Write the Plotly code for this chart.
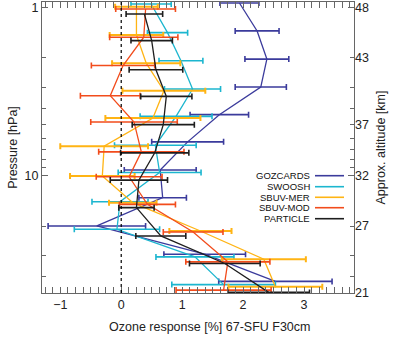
import plotly.graph_objects as go

# ---------------- data ----------------
series_names = ["GOZCARDS", "SWOOSH", "SBUV-MER", "SBUV-MOD", "PARTICLE"]
series_colors = ["#3b3b9c", "#1cb6cf", "#ffb414", "#f24c1c", "#1e1e1e"]

gozcards_p = [0.943, 1.382, 2.033, 2.980, 4.350, 6.313, 9.278, 13.56, 19.97, 29.39, 42.67]
gozcards_x = [1.94, 2.23, 2.39, 2.29, 1.61, 1.09, 0.64, 0.68, -0.40, 1.37, 2.53]
gozcards_e = [0.32, 0.36, 0.36, 0.42, 0.48, 0.59, 0.59, 0.39, 0.80, 0.67, 0.93]

swoosh_p = [0.956, 1.415, 2.081, 3.062, 4.452, 6.613, 9.599, 14.32, 20.90, 30.50, 44.58]
swoosh_x = [0.49, 0.76, 0.98, 1.17, 0.90, 0.56, 0.63, -0.02, -0.07, 1.21, 1.68]
swoosh_e = [0.33, 0.33, 0.36, 0.46, 0.59, 0.67, 0.68, 0.46, 0.70, 0.64, 0.85]

sbuvmer_p = [0.992, 1.459, 2.148, 3.134, 4.550, 6.705, 10.07, 14.52, 21.39, 31.47, 45.94]
sbuvmer_x = [0.25, 0.25, 0.41, 0.70, 0.52, -0.28, -0.31, 0.19, 1.30, 2.34, 2.53]
sbuvmer_e = [0.35, 0.44, 0.56, 0.68, 0.78, 0.72, 0.53, 0.39, 0.51, 0.69, 0.77]

sbuvmod_p = [1.023, 1.506, 2.219, 3.356, 4.806, 7.237, 10.18, 14.86, 21.69, 32.65, 48.06]
sbuvmod_x = [0.40, 0.37, 0.03, -0.18, 0.21, 0.33, 0.13, 0.43, 1.18, 1.75, 1.68]
sbuvmod_e = [0.49, 0.56, 0.52, 0.49, 0.71, 0.70, 0.54, 0.46, 0.49, 0.69, 0.78]

particle_p = [1.096, 1.578, 2.353, 3.388, 4.986, 7.336, 10.66, 15.54, 22.90, 33.38, 49.58]
particle_x = [0.38, 0.50, 0.57, 0.74, 0.69, 0.55, 0.29, 0.25, 0.65, 1.70, 2.42]
particle_e = [0.30, 0.34, 0.44, 0.42, 0.51, 0.56, 0.47, 0.29, 0.41, 0.58, 0.67]

left_tick_vals = [1, 10]
left_tick_text = ["1", "10"]
minor_p_ticks = [2, 3, 4, 5, 6, 7, 8, 9, 20, 30, 40, 50]
alt_tick_p = [1, 2, 5, 10, 20, 50]
alt_tick_text = ["48", "43", "37", "32", "27", "21"]

all_p = [gozcards_p, swoosh_p, sbuvmer_p, sbuvmod_p, particle_p]
all_x = [gozcards_x, swoosh_x, sbuvmer_x, sbuvmod_x, particle_x]
all_e = [gozcards_e, swoosh_e, sbuvmer_e, sbuvmod_e, particle_e]

FONT = "Liberation Sans, Arial, sans-serif"

fig = go.Figure()
for name, col, p, x, e in zip(series_names, series_colors, all_p, all_x, all_e):
    fig.add_trace(go.Scatter(
        x=x, y=p, mode="lines", name=name,
        line=dict(color=col, width=1.3),
        error_x=dict(type="data", array=e, visible=True, color=col,
                     thickness=2.0 if name == "SBUV-MER" else 1.6, width=3),
        showlegend=False, hoverinfo="skip",
    ))

# invisible trace to activate right axis
fig.add_trace(go.Scatter(x=[0], y=[10], yaxis="y2", mode="markers",
                         marker=dict(opacity=0), showlegend=False, hoverinfo="skip"))

# zero line
fig.add_shape(type="line", xref="x", yref="paper", x0=0, x1=0, y0=0, y1=1,
              line=dict(color="black", width=1.2, dash="dot"))

# manual legend (text right-aligned, line sample at right)
leg_y = [0.4031, 0.3653, 0.3289, 0.2931, 0.2553]
for name, col, yy in zip(series_names, series_colors, leg_y):
    fig.add_annotation(x=0.8644, y=yy, xref="paper", yref="paper", text=name,
                       showarrow=False, xanchor="right", yanchor="middle",
                       font=dict(family=FONT, size=9.5, color="#111"))
    fig.add_shape(type="line", xref="paper", yref="paper", x0=0.875, x1=0.968,
                  y0=yy, y1=yy, line=dict(color=col, width=1.6))

# x-axis title
fig.add_annotation(x=0.538, y=-0.117, xref="paper", yref="paper",
                   text="Ozone response [%] 67-SFU F30cm", showarrow=False,
                   xanchor="center", yanchor="middle",
                   font=dict(family=FONT, size=12.5, color="#222"))

axis_col = "#666"
fig.update_layout(
    width=400, height=337,
    margin=dict(l=42, r=46, t=2, b=44),
    paper_bgcolor="white", plot_bgcolor="white",
    font=dict(family=FONT, size=12, color="#222"),
    xaxis=dict(
        range=[-1.3, 3.82], tick0=0, dtick=1, ticks="inside", ticklen=6,
        tickcolor=axis_col, showline=True, linecolor=axis_col, linewidth=1,
        mirror="allticks", showgrid=False, zeroline=False,
        tickfont=dict(size=12.5),
        minor=dict(dtick=0.125, tick0=0, ticks="inside", ticklen=3, tickcolor=axis_col, showgrid=False),
    ),
    yaxis=dict(
        type="log", range=[1.699, -0.0315], tickmode="array",
        tickvals=left_tick_vals, ticktext=left_tick_text,
        ticks="inside", ticklen=6, tickcolor=axis_col,
        showline=True, linecolor=axis_col, linewidth=1, mirror="allticks",
        showgrid=False, zeroline=False, tickfont=dict(size=12.5),
        minor=dict(tickmode="array", tickvals=minor_p_ticks, ticks="inside",
                   ticklen=4, tickcolor=axis_col, showgrid=False),
        title=dict(text="Pressure [hPa]", font=dict(size=12.5), standoff=4),
    ),
    yaxis2=dict(
        type="log", range=[1.699, -0.0315], overlaying="y", side="right",
        tickmode="array", tickvals=alt_tick_p, ticktext=alt_tick_text,
        ticks="", showline=False, showgrid=False, zeroline=False,
        tickfont=dict(size=12.5),
        title=dict(text="Approx. altitude [km]", font=dict(size=12.5), standoff=8),
    ),
)

fig.write_html("out.html")
